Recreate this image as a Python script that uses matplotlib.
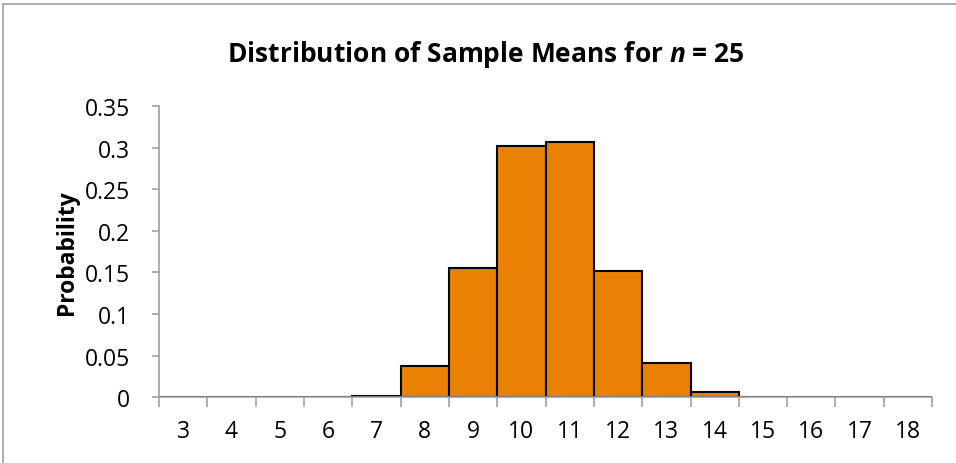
import numpy as np
import matplotlib.pyplot as plt

plt.rcParams['font.family'] = ['Open Sans', 'DejaVu Sans']
plt.rcParams['mathtext.fontset'] = 'custom'
plt.rcParams['mathtext.bfit'] = 'Open Sans:bold:italic'

means = [3, 4, 5, 6, 7, 8, 9, 10, 11, 12, 13, 14, 15, 16, 17, 18]
probs = [0, 0, 0, 0, 0.001, 0.037, 0.155, 0.302, 0.307, 0.152, 0.041, 0.006, 0, 0, 0, 0]
yticks = [0, 0.05, 0.1, 0.15, 0.2, 0.25, 0.3, 0.35]
ylabels = ['0', '0.05', '0.1', '0.15', '0.2', '0.25', '0.3', '0.35']

fig = plt.figure(figsize=(9.56, 4.64), dpi=100)
ax = fig.add_axes([0.1663, 0.142, 0.975 - 0.1663, 0.769 - 0.142])

x = np.arange(len(means))
ax.bar(x, probs, width=1.0, color='#EB8104', edgecolor='black', linewidth=1.5)

ax.set_xlim(-0.5, len(means) - 0.5)
ax.set_ylim(0, 0.35)
ax.set_yticks(yticks)
ax.set_yticklabels(ylabels, fontsize=16.5)
ax.set_xticks(x)
ax.set_xticklabels([str(m) for m in means], fontsize=16.5)
ax.set_xticks(np.arange(len(means) + 1) - 0.5, minor=True)
ax.tick_params(axis='x', which='major', length=0, pad=16)
ax.tick_params(axis='x', which='minor', length=7, color='#a0a0a0', width=1.2)
ax.tick_params(axis='y', length=5, color='#a0a0a0', width=1.2, pad=16)

for s in ['top', 'right']:
    ax.spines[s].set_visible(False)
for s in ['left', 'bottom']:
    ax.spines[s].set_color('#a0a0a0')
    ax.spines[s].set_linewidth(1.2)

ax.set_ylabel('Probability', fontsize=16.5, fontweight='bold', labelpad=4)
fig.text(0.508, 0.882, 'Distribution of Sample Means for $\\mathbfit{n}$ = 25', ha='center', va='center',
         fontsize=19, fontweight='bold')

# outer chart frame (top and left edges visible)
fig.add_artist(plt.Line2D([0.003, 1.0], [0.99, 0.99], color='#a0a0a0', lw=1.2, transform=fig.transFigure))
fig.add_artist(plt.Line2D([0.003, 0.003], [0.0, 0.99], color='#a0a0a0', lw=1.2, transform=fig.transFigure))

fig.savefig('out.png', dpi=100)
